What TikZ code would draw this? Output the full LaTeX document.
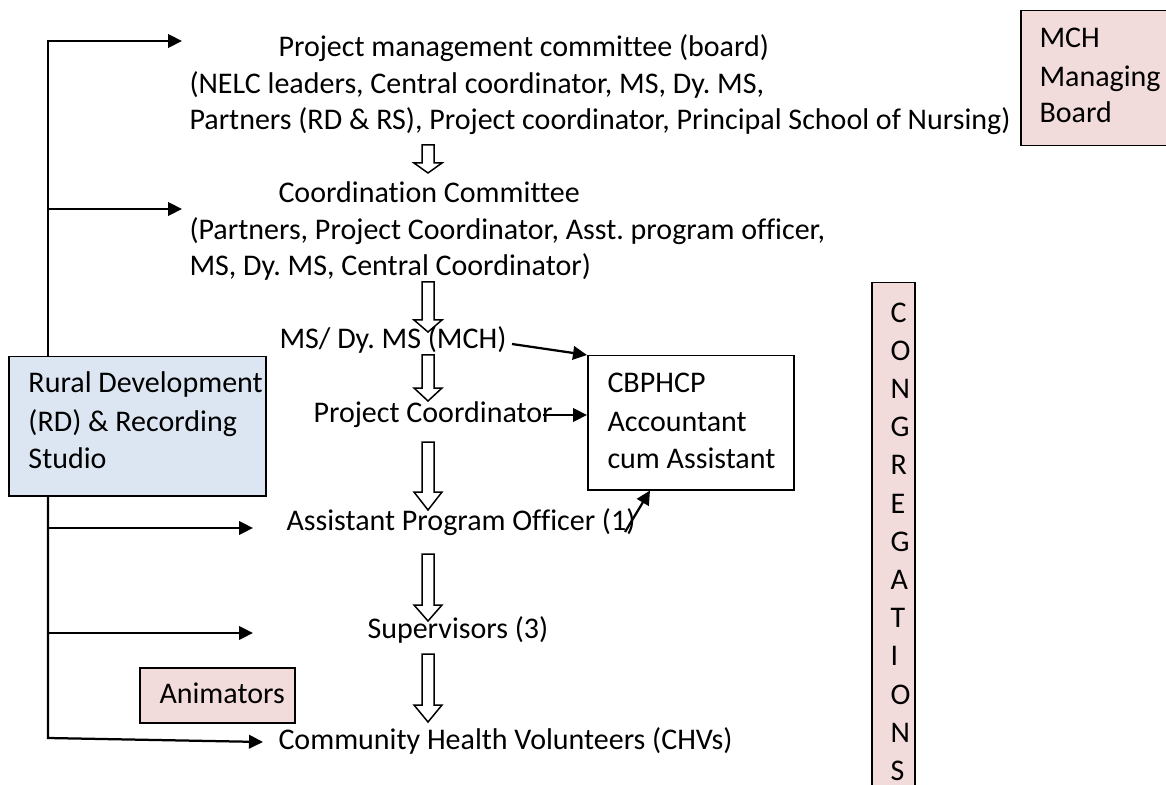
\documentclass[tikz,border=0pt]{standalone}
\usepackage{fontspec}
\setmainfont{Carlito}[Ligatures=NoCommon]
\frenchspacing
\usetikzlibrary{arrows.meta}
\definecolor{rdblue}{HTML}{DCE6F2}
\definecolor{boxpink}{HTML}{F2DCDB}
\tikzset{
  lbl/.style={anchor=base west, inner sep=0pt, font=\fontsize{12}{14.7}\selectfont},
  panel/.style={draw=black, line width=0.6pt, anchor=north west, inner sep=0pt},
  feed/.style={line width=0.9pt, -{Triangle[length=5.6pt,width=5.4pt]}},
  hollow/.style={draw=black, fill=white, line width=0.6pt, line join=miter},
}
% downward block arrow: top, start of head, tip
\newcommand{\hollowdown}[3]{%
  \draw[hollow] (422,#1) -- (434,#1) -- (434,#2) -- (442,#2) -- (428,#3)
    -- (414,#2) -- (422,#2) -- cycle;}
\begin{document}
\begin{tikzpicture}[x=0.4pt,y=-0.4pt]
\useasboundingbox (0,0) rectangle (1166,785);

% boxes
\node[panel, fill=rdblue, minimum width=102.8pt, minimum height=55.6pt] (rd) at (8,356) {};
\node[panel, fill=white, minimum width=82.4pt, minimum height=53.6pt] (cb) at (587,355) {};
\node[panel, fill=boxpink, minimum width=60pt, minimum height=54pt] (mch) at (1020,10) {};
\node[panel, fill=boxpink, minimum width=62pt, minimum height=22pt] (anim) at (139,667) {};
\node[panel, fill=boxpink, minimum width=17.2pt, minimum height=206pt] (cong) at (871,282) {};

% block arrows down the chain
\hollowdown{145}{163}{173}
\hollowdown{282}{320}{332}
\hollowdown{355}{388}{401}
\hollowdown{442}{492}{510}
\hollowdown{554}{605}{621}
\hollowdown{654}{705}{722}

% main chain labels
\node[lbl] (pm)  at (278,57)  {Project management committee (board)};
\node[lbl] (pm1) at (189,94)  {(NELC leaders, Central coordinator, MS, Dy. MS,};
\node[lbl] (pm2) at (189,130) {Partners (RD \& RS), Project coordinator, Principal School of Nursing)};
\node[lbl] (cc)  at (278,203) {Coordination Committee};
\node[lbl] (cc1) at (189,240) {(Partners, Project Coordinator, Asst. program officer,};
\node[lbl] (cc2) at (189,276) {MS, Dy. MS, Central Coordinator)};
\node[lbl] (ms)  at (279,349) {MS/ Dy. MS (MCH)};
\node[lbl] (pc)  at (313,422) {Project Coordinator};
\node[lbl] (apo) at (286,530) {Assistant Program Officer (1)};
\node[lbl] (sup) at (367,638) {Supervisors (3)};
\node[lbl] (chv) at (278,749) {Community Health Volunteers (CHVs)};

% box texts
\node[lbl] (rd1) at (28,392) {Rural Development};
\node[lbl] (rd2) at (28,431) {(RD) \& Recording};
\node[lbl] (rd3) at (28,468) {Studio};
\node[lbl] (cb1) at (607,392) {CBPHCP};
\node[lbl] (cb2) at (607,431) {Accountant};
\node[lbl] (cb3) at (607,468) {cum Assistant};
\node[lbl] (mch1) at (1039,48)  {MCH};
\node[lbl] (mch2) at (1039,87)  {Managing};
\node[lbl] (mch3) at (1039,123) {Board};
\node[lbl] (anim1) at (159,703) {Animators};
\foreach \ch [count=\k from 0] in {C,O,N,G,R,E,G,A,T,I,O,N,S}
  \node[lbl] (cong\k) at (890,322+\k*38.2) {\ch};

% feeds from Rural Development & Recording Studio
\coordinate (tt) at ([xshift=16pt]rd.north west);
\coordinate (tb) at ([xshift=16pt]rd.south west);
\coordinate (a1) at (182,41);
\coordinate (a2) at (182,209);
\coordinate (a3) at (253,528);
\coordinate (a4) at (253,633);
\coordinate (bend) at (48,738);
\coordinate (a5) at (263,742);
\draw[feed] (tt) |- (a1);
\draw[feed] (tt |- a2) -- (a2);
\draw[feed] (tb |- a3) -- (a3);
\draw[feed] (tb |- a4) -- (a4);
\draw[feed, line join=miter] (tb) -- (bend) -- (a5);

% links to the accountant
\coordinate (msout) at (512,344);
\coordinate (pcout) at (543,415);
\coordinate (apoout) at (625,532);
\draw[feed] (msout) -- (cb.north west);
\draw[feed] (pcout) -- (pcout -| cb.west);
\draw[feed] (apoout) -- ([xshift=25.2pt]cb.south west);
\end{tikzpicture}
\end{document}
